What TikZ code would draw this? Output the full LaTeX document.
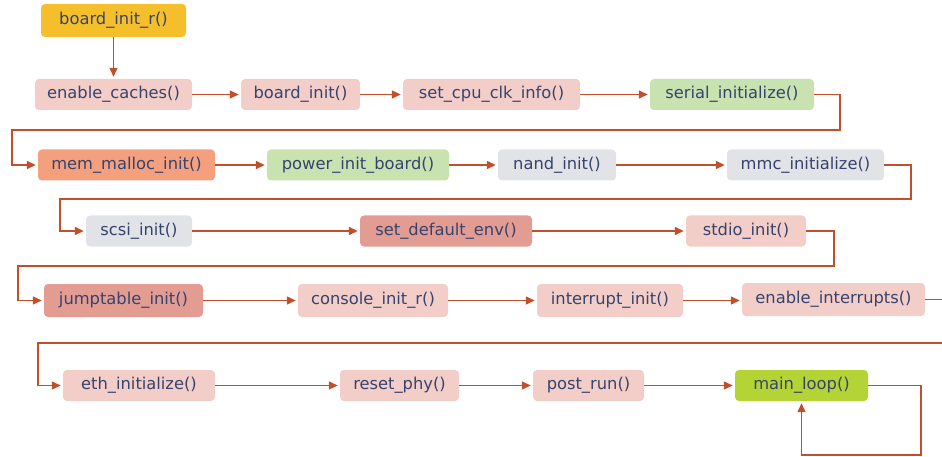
\documentclass[tikz,border=0pt]{standalone}
\usepackage{fontspec}
\setmainfont{DejaVu Sans}
\usetikzlibrary{arrows.meta}

\definecolor{txt}{HTML}{36436F}
\definecolor{wire}{HTML}{C0502C}
\definecolor{cYellow}{HTML}{F5BE2B}
\definecolor{cPink}{HTML}{F3CDC7}
\definecolor{cRose}{HTML}{E29C92}
\definecolor{cSalmon}{HTML}{F4A07E}
\definecolor{cMint}{HTML}{C8E2B0}
\definecolor{cGrey}{HTML}{E1E3E6}
\definecolor{cLime}{HTML}{B4D334}

\tikzset{
  fn/.style={rounded corners=4pt, minimum height=31pt, inner sep=0pt,
    text=txt, font=\fontsize{16.3}{19}\selectfont},
  flow/.style={draw=wire, line width=1.4pt,
    -{Triangle[length=9pt,width=8pt]}, shorten >=2pt},
  plain/.style={draw=wire, line width=1.4pt},
}

\begin{document}
\begin{tikzpicture}[x=1pt,y=-1pt]
\useasboundingbox (0,0) rectangle (942,457);

% function boxes, one row per stage
\node[fn, fill=cYellow, minimum width=145pt, minimum height=33pt] (binitr) at (113.5,20.5) {board\_init\_r()};

\node[fn, fill=cPink, minimum width=157pt] (ecache) at (113.5,94.5) {enable\_caches()};
\node[fn, fill=cPink, minimum width=119pt] (binit)  at (300.5,94.5) {board\_init()};
\node[fn, fill=cPink, minimum width=177pt] (cpuclk) at (491.5,94.5) {set\_cpu\_clk\_info()};
\node[fn, fill=cMint, minimum width=164pt] (serial) at (732,94.5) {serial\_initialize()};

\node[fn, fill=cSalmon, minimum width=177pt] (memm) at (126.5,165) {mem\_malloc\_init()};
\node[fn, fill=cMint, minimum width=182pt] (power) at (358,165) {power\_init\_board()};
\node[fn, fill=cGrey, minimum width=118pt] (nand) at (557,165) {nand\_init()};
\node[fn, fill=cGrey, minimum width=157pt] (mmc) at (805.5,165) {mmc\_initialize()};

\node[fn, fill=cGrey, minimum width=106pt] (scsi) at (139,231) {scsi\_init()};
\node[fn, fill=cRose, minimum width=172pt] (setenv) at (446,231) {set\_default\_env()};
\node[fn, fill=cPink, minimum width=120pt] (stdio) at (746,231) {stdio\_init()};

\node[fn, fill=cRose, minimum width=159pt, minimum height=33pt] (jtab) at (123.5,300.5) {jumptable\_init()};
\node[fn, fill=cPink, minimum width=150pt, minimum height=33pt] (cons) at (373,300.5) {console\_init\_r()};
\node[fn, fill=cPink, minimum width=146pt, minimum height=33pt] (irq) at (610,300.5) {interrupt\_init()};
\node[fn, fill=cPink, minimum width=183pt, minimum height=33pt] (enirq) at (833.5,299.5) {enable\_interrupts()};

\node[fn, fill=cPink, minimum width=152pt] (eth) at (139,385.5) {eth\_initialize()};
\node[fn, fill=cPink, minimum width=119pt] (rphy) at (399.5,385.5) {reset\_phy()};
\node[fn, fill=cPink, minimum width=111pt] (post) at (588.5,385.5) {post\_run()};
\node[fn, fill=cLime, minimum width=133pt] (mloop) at (801.5,385.5) {main\_loop()};

% turning points of the wrap-around connectors
\coordinate (w1a) at (840,94.5);  \coordinate (w1b) at (840,130);
\coordinate (w1c) at (12,130);    \coordinate (w1d) at (12,165);
\coordinate (w2a) at (911,165);   \coordinate (w2b) at (911,199);
\coordinate (w2c) at (60,199);    \coordinate (w2d) at (60,231);
\coordinate (w3a) at (834,231);   \coordinate (w3b) at (834,266);
\coordinate (w3c) at (18,266);    \coordinate (w3d) at (18,300.5);
\coordinate (w4a) at (942,299.5);
\coordinate (w4b) at (942,343);   \coordinate (w4c) at (38,343);
\coordinate (w4d) at (38,385.5);
\coordinate (l1) at (921,385.5);  \coordinate (l2) at (921,455);
\coordinate (l3) at (801.5,455);

% connectors
\draw[flow] (binitr) -- (ecache);
\draw[flow] (ecache) -- (binit);
\draw[flow] (binit) -- (cpuclk);
\draw[flow] (cpuclk) -- (serial);
\draw[flow] (serial.east) -- (w1a) -- (w1b) -- (w1c) -- (w1d) -- (memm.west);

\draw[flow] (memm) -- (power);
\draw[flow] (power) -- (nand);
\draw[flow] (nand) -- (mmc);
\draw[flow] (mmc.east) -- (w2a) -- (w2b) -- (w2c) -- (w2d) -- (scsi.west);

\draw[flow] (scsi) -- (setenv);
\draw[flow] (setenv) -- (stdio);
\draw[flow] (stdio.east) -- (w3a) -- (w3b) -- (w3c) -- (w3d) -- (jtab.west);

\draw[flow] (jtab) -- (cons);
\draw[flow] (cons) -- (irq);
\draw[flow] (irq.east) -- (enirq.west |- irq.east);
\draw[plain] (enirq.east) -- (w4a);
\draw[flow] (w4b) -- (w4c) -- (w4d) -- (eth.west);

\draw[flow] (eth) -- (rphy);
\draw[flow] (rphy) -- (post);
\draw[flow] (post) -- (mloop);
\draw[flow] (mloop.east) -- (l1) -- (l2) -- (l3) -- (mloop.south);
\end{tikzpicture}
\end{document}
